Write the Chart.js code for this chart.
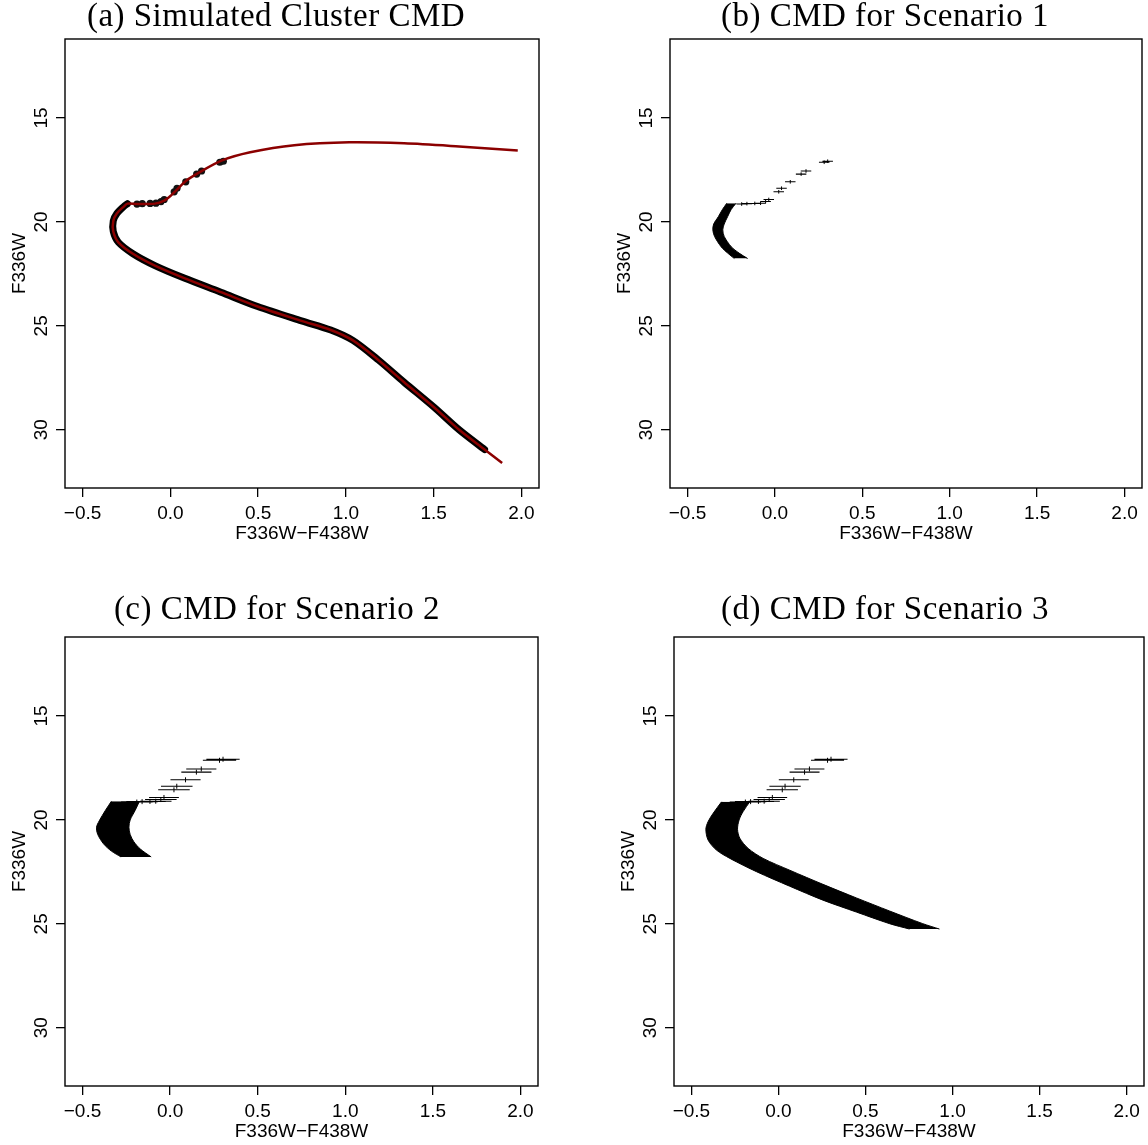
<!DOCTYPE html>
<html>
<head>
<meta charset="utf-8">
<script src="https://cdn.jsdelivr.net/npm/chart.js@4.4.1/dist/chart.umd.min.js"></script>
<style>
  body { margin: 0; background: #fff; }
  #page { position: relative; width: 1148px; height: 1145px; overflow: hidden; background: #fff; }
  .title { position: absolute; width: 420px; text-align: center; font-family: "Liberation Serif", serif;
           font-size: 33px; line-height: 33px; letter-spacing: 0.5px; color: #000; white-space: nowrap; z-index: 2; }
  canvas { position: absolute; }
</style>
</head>
<body>
<div id="page">
  <div class="title" style="left:66px;top:-1px">(a) Simulated Cluster CMD</div>
  <div class="title" style="left:675px;top:-1px">(b) CMD for Scenario 1</div>
  <div class="title" style="left:67px;top:592px">(c) CMD for Scenario 2</div>
  <div class="title" style="left:675px;top:592px">(d) CMD for Scenario 3</div>
  <canvas id="cmdA" width="543" height="548" style="left:0px;top:0px"></canvas>
  <canvas id="cmdB" width="542" height="548" style="left:605px;top:0px"></canvas>
  <canvas id="cmdC" width="543" height="548" style="left:0px;top:598px"></canvas>
  <canvas id="cmdD" width="540" height="548" style="left:609px;top:598px"></canvas>
</div>
<script>
const xTicks = [-0.5, 0, 0.5, 1, 1.5, 2];
const yTicks = [15, 20, 25, 30];

// (a) isochrone (dark red), from the bottom of the MS round the turnoff and out along the RGB
const isoColor = [1.89, 1.79, 1.645, 1.50, 1.33, 1.186, 1.04, 0.914, 0.747, 0.497, 0.288, 0.079, -0.088, -0.213,
  -0.296, -0.325, -0.325, -0.305, -0.265, -0.244, -0.19, -0.088, -0.035, 0.006, 0.038, 0.09, 0.163, 0.288,
  0.455, 0.706, 1.019, 1.332, 1.645, 1.979];
const isoMag = [31.6, 30.95, 30.0, 28.9, 27.7, 26.65, 25.7, 25.2, 24.76, 24.07, 23.38, 22.7, 22.1, 21.53,
  20.98, 20.46, 19.95, 19.6, 19.26, 19.12, 19.14, 19.12, 18.97, 18.71, 18.45, 18.02, 17.63, 17.06,
  16.65, 16.31, 16.17, 16.22, 16.37, 16.56];

// (a) simulated MS stars, a dense black band under the curve
const msColor = [1.79, 1.645, 1.50, 1.33, 1.186, 1.04, 0.914, 0.747, 0.497, 0.288, 0.079, -0.088, -0.213,
  -0.296, -0.325, -0.325, -0.305, -0.265, -0.244];
const msMag = [30.95, 30.0, 28.9, 27.7, 26.65, 25.7, 25.2, 24.76, 24.07, 23.38, 22.7, 22.1, 21.53,
  20.98, 20.46, 19.95, 19.6, 19.26, 19.12];

// sub-giant stars, the same in every panel
const sgbColor = [-0.19, -0.16, -0.115, -0.082, -0.053, -0.035, 0.022, 0.038, 0.088, 0.150, 0.178, 0.282, 0.302];
const sgbMag = [19.14, 19.12, 19.11, 19.10, 19.02, 18.92, 18.55, 18.38, 18.07, 17.70, 17.55, 17.13, 17.08];
const sgbErr1 = [0.03, 0.03, 0.03, 0.03, 0.03, 0.03, 0.03, 0.03, 0.03, 0.03, 0.03, 0.03, 0.03];
const sgbErr23 = [0.09, 0.09, 0.09, 0.09, 0.09, 0.085, 0.09, 0.09, 0.086, 0.086, 0.086, 0.095, 0.095];

// crescent edges, scenario 1
const s1LeftColor = [-0.275, -0.30, -0.323, -0.35, -0.355, -0.345, -0.308, -0.27, -0.232];
const s1LeftMag = [19.1, 19.4, 19.74, 20.1, 20.38, 20.7, 21.19, 21.5, 21.76];
const s1RightColor = [-0.222, -0.25, -0.27, -0.29, -0.298, -0.29, -0.25, -0.205, -0.156];
const s1RightMag = [19.1, 19.4, 19.74, 20.1, 20.38, 20.7, 21.19, 21.5, 21.76];

// scenario 2
const s2LeftColor = [-0.335, -0.37, -0.405, -0.42, -0.413, -0.38, -0.335, -0.28];
const s2LeftMag = [19.1, 19.55, 20.05, 20.35, 20.7, 21.15, 21.5, 21.78];
const s2RightColor = [-0.175, -0.2, -0.228, -0.235, -0.228, -0.207, -0.17, -0.108];
const s2RightMag = [19.1, 19.55, 20.0, 20.35, 20.7, 21.05, 21.4, 21.78];

// scenario 3
const s3LeftColor = [-0.327, -0.375, -0.404, -0.417, -0.404, -0.356, -0.279, -0.126, 0.065, 0.256, 0.447, 0.638, 0.753];
const s3LeftMag = [19.13, 19.68, 20.08, 20.45, 20.97, 21.45, 21.85, 22.49, 23.19, 23.86, 24.43, 24.99, 25.25];
const s3RightColor = [-0.165, -0.203, -0.226, -0.235, -0.222, -0.174, -0.088, 0.065, 0.256, 0.447, 0.638, 0.829, 0.925];
const s3RightMag = [19.13, 19.6, 20.0, 20.45, 20.88, 21.37, 21.85, 22.42, 23.1, 23.75, 24.38, 24.99, 25.25];

function pts(xs, ys) {
  return xs.map((x, i) => ({ x: x, y: ys[i] }));
}

function errBars(xs, ys, errs) {
  let out = [];
  xs.forEach((x, i) => {
    out.push({ x: x - errs[i], y: ys[i] }, { x: x + errs[i], y: ys[i] }, { x: null, y: null });
  });
  return out;
}

function fmtX(v) {
  return v < 0 ? "\u2212" + Math.abs(v).toFixed(1) : v.toFixed(1);
}

const axisFont = { family: '"Liberation Sans", Arial, sans-serif', size: 19 };

const frame = {
  id: "frame",
  afterDraw(chart) {
    const { ctx, chartArea } = chart;
    ctx.save();
    ctx.strokeStyle = "#000";
    ctx.lineWidth = 1.4;
    ctx.strokeRect(chartArea.left, chartArea.top, chartArea.right - chartArea.left, chartArea.bottom - chartArea.top);
    ctx.restore();
  }
};

function makeOptions() {
  return {
    responsive: false,
    animation: false,
    indexAxis: "y",
    layout: { padding: { left: 0, top: 39, right: 4, bottom: 0 } },
    plugins: { legend: { display: false }, tooltip: { enabled: false }, title: { display: false } },
    scales: {
      x: {
        type: "linear",
        min: -0.6,
        max: 2.1,
        afterBuildTicks: s => { s.ticks = xTicks.map(v => ({ value: v })); },
        afterFit: s => { s.height = 60; },
        border: { display: false },
        grid: { drawOnChartArea: false, drawTicks: true, tickLength: 9, color: "#000", lineWidth: 1.3 },
        ticks: { font: axisFont, color: "#000", padding: 5.5, maxRotation: 0, autoSkip: false, callback: v => fmtX(v) },
        title: { display: true, text: "F336W\u2212F438W", font: axisFont, color: "#000", padding: { top: 0, bottom: 2.6 } }
      },
      y: {
        type: "linear",
        min: 11.2,
        max: 32.8,
        reverse: true,
        afterBuildTicks: s => { s.ticks = yTicks.map(v => ({ value: v })); },
        afterFit: s => { s.width = 65; },
        border: { display: false },
        grid: { drawOnChartArea: false, drawTicks: true, tickLength: 9, color: "#000", lineWidth: 1.3 },
        ticks: { font: axisFont, color: "#000", padding: 3.5, minRotation: 90, maxRotation: 90, crossAlign: "center", autoSkip: false },
        title: { display: true, text: "F336W", font: axisFont, color: "#000", padding: { top: 8, bottom: 0 } }
      }
    }
  };
}

function scenarioSets(errs, markSize, leftX, leftY, rightX, rightY) {
  return [
    { data: errBars(sgbColor, sgbMag, errs), borderColor: "#000", borderWidth: 1.1, pointRadius: 0, tension: 0, spanGaps: false, fill: false },
    { data: pts(sgbColor, sgbMag), showLine: false, pointStyle: "line", rotation: 90, pointRadius: markSize,
      pointBorderColor: "#000", pointBorderWidth: 1, fill: false },
    { data: pts(leftX, leftY), borderColor: "#000", backgroundColor: "#000", borderWidth: 1, pointRadius: 0, tension: 0.3, fill: "+1" },
    { data: pts(rightX, rightY), borderColor: "#000", borderWidth: 1, pointRadius: 0, tension: 0.3, fill: false }
  ];
}

function cmdChart(id, datasets) {
  return new Chart(document.getElementById(id), {
    type: "line",
    data: { datasets: datasets },
    options: makeOptions(),
    plugins: [frame]
  });
}

cmdChart("cmdA", [
  { data: pts(isoColor, isoMag), borderColor: "#8b0000", borderWidth: 2.5, pointRadius: 0, tension: 0.3, fill: false },
  { data: pts(msColor, msMag), borderColor: "#000", borderWidth: 7, borderCapStyle: "round", borderJoinStyle: "round",
    pointRadius: 0, tension: 0.3, fill: false },
  { data: pts(sgbColor, sgbMag), showLine: false, pointRadius: 3.6, pointBackgroundColor: "#111", pointBorderWidth: 0, fill: false }
]);
cmdChart("cmdB", scenarioSets(sgbErr1, 1.8, s1LeftColor, s1LeftMag, s1RightColor, s1RightMag));
cmdChart("cmdC", scenarioSets(sgbErr23, 2.5, s2LeftColor, s2LeftMag, s2RightColor, s2RightMag));
cmdChart("cmdD", scenarioSets(sgbErr23, 2.5, s3LeftColor, s3LeftMag, s3RightColor, s3RightMag));
</script>
</body>
</html>
